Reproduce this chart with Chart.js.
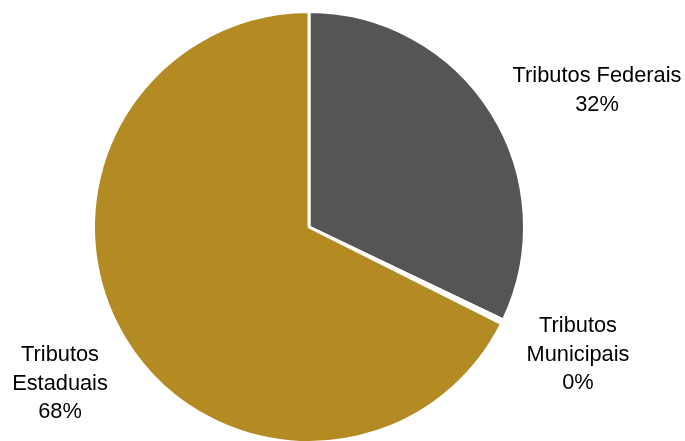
<!DOCTYPE html>
<html>
<head>
<meta charset="utf-8">
<script src="https://cdn.jsdelivr.net/npm/chart.js@4/dist/chart.umd.min.js"></script>
<style>
  html, body { margin: 0; padding: 0; background: #fff; overflow: hidden; }
  #wrap { width: 685px; height: 441px; overflow: hidden; position: relative; }
  #box { width: 685px; height: 450px; }
</style>
</head>
<body>
<div id="wrap"><div id="box"><canvas id="pieChart"></canvas></div></div>
<script>
const categories = ['Tributos Federais', 'Tributos Municipais', 'Tributos Estaduais'];
const shares = [32.1, 0.3, 67.6];
const percentLabels = ['32%', '0%', '68%'];
const sliceColors = ['#555555', '#f4f4f4', '#b48a22'];

// label text split in lines, placed next to the slices
const labelLines = [
    ['Tributos Federais', percentLabels[0]],
    ['Tributos', 'Municipais', percentLabels[1]],
    ['Tributos', 'Estaduais', percentLabels[2]]
];
const labelAnchors = [[597, 76], [578, 326], [60, 355]];

const outsideLabels = {
    id: 'outsideLabels',
    afterDraw(chart) {
        const ctx = chart.ctx;
        ctx.save();
        ctx.font = '21.8px "Liberation Sans", Arial, sans-serif';
        ctx.fillStyle = '#000';
        ctx.textAlign = 'center';
        ctx.textBaseline = 'middle';
        labelLines.forEach((lines, i) => {
            const [x, y] = labelAnchors[i];
            lines.forEach((t, j) => ctx.fillText(t, x, y + j * 28.5));
        });
        ctx.restore();
    }
};

new Chart(document.getElementById('pieChart').getContext('2d'), {
    type: 'pie',
    data: {
        labels: categories,
        datasets: [{
            data: shares,
            backgroundColor: sliceColors,
            borderColor: '#ffffff',
            borderWidth: 3
        }]
    },
    options: {
        responsive: true,
        maintainAspectRatio: false,
        animation: false,
        layout: { padding: { left: 0, right: 67, top: 10, bottom: 6 } },
        plugins: {
            legend: { display: false },
            tooltip: { enabled: false }
        }
    },
    plugins: [outsideLabels]
});
</script>
</body>
</html>
